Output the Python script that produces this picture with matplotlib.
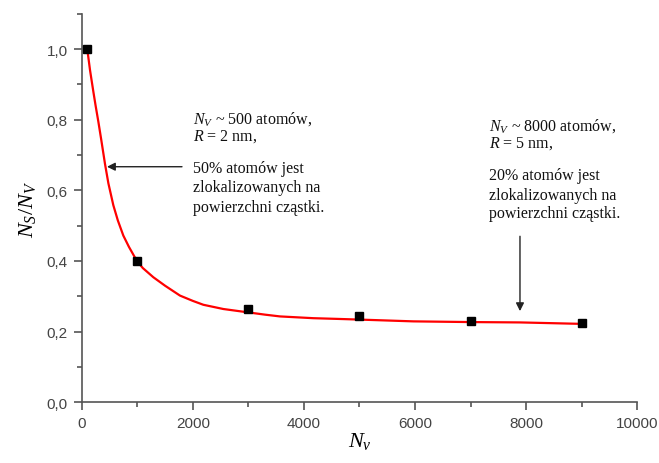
import matplotlib.pyplot as plt

plt.rcParams['mathtext.fontset'] = 'custom'
plt.rcParams['mathtext.rm'] = 'Liberation Serif'
plt.rcParams['mathtext.it'] = 'Liberation Serif:italic'

# measured points
n_v = [100, 1000, 3000, 5000, 7000, 9000]
ratio = [1.0, 0.40, 0.264, 0.243, 0.231, 0.224]

# fitted curve
fit_x = [100, 150, 209, 250, 299, 350, 419, 480, 569, 650, 749, 850, 990,
         1100, 1289, 1500, 1769, 2000, 2189, 2549, 2970, 3300, 3569, 4169,
         4600, 5009, 5969, 7000, 7889, 8969]
fit_y = [1.0, 0.94, 0.88, 0.84, 0.795, 0.745, 0.675, 0.62, 0.558, 0.515,
         0.472, 0.44, 0.401, 0.38, 0.354, 0.33, 0.302, 0.287, 0.276, 0.264,
         0.255, 0.248, 0.243, 0.238, 0.236, 0.234, 0.229, 0.227, 0.226, 0.222]

xticks = [0, 2000, 4000, 6000, 8000, 10000]
yticks = [0.0, 0.2, 0.4, 0.6, 0.8, 1.0]
ytick_labels = ['0,0', '0,2', '0,4', '0,6', '0,8', '1,0']

fig = plt.figure(figsize=(6.59, 4.64), dpi=100)
ax = fig.add_axes([0.124, 0.131, 0.843, 0.837])

ax.plot(fit_x, fit_y, color='red', lw=1.6, zorder=2)
ax.plot(n_v, ratio, 's', color='black', ms=6, zorder=3)

ax.set_xlim(0, 10000)
ax.set_ylim(0, 1.1)
ax.set_xticks(xticks)
ax.set_xticks(range(1000, 10000, 2000), minor=True)
ax.set_yticks(yticks)
ax.set_yticklabels(ytick_labels)
ax.set_yticks([0.1, 0.3, 0.5, 0.7, 0.9, 1.1], minor=True)

for s in ['top', 'right']:
    ax.spines[s].set_visible(False)
for s in ['left', 'bottom']:
    ax.spines[s].set_color('#555555')
    ax.spines[s].set_linewidth(1.2)
ax.tick_params(which='both', direction='out', color='#555555', width=1.2,
               labelsize=11, labelcolor='#444444', pad=4)
ax.tick_params(which='major', length=6)
ax.tick_params(which='minor', length=3.5)
for lbl in ax.get_xticklabels() + ax.get_yticklabels():
    lbl.set_family('Liberation Sans')

ax.set_xlabel('$N_v$', fontsize=16, labelpad=0)
ax.set_ylabel('$N_S/N_V$', fontsize=16, labelpad=6)

txt = dict(fontsize=11.5, family='Liberation Serif', color='#111111',
           va='baseline', ha='left')
ax.text(2000, 0.791, r'$N_V$ ~ 500 atomów,', **txt)
ax.text(2000, 0.743, r'$R$ = 2 nm,', **txt)
ax.text(2000, 0.651, '50% atomów jest', **txt)
ax.text(2000, 0.597, 'zlokalizowanych na', **txt)
ax.text(2000, 0.541, 'powierzchni cząstki.', **txt)

ax.text(7330, 0.771, r'$N_V$ ~ 8000 atomów,', **txt)
ax.text(7330, 0.723, r'$R$ = 5 nm,', **txt)
ax.text(7330, 0.632, '20% atomów jest', **txt)
ax.text(7330, 0.576, 'zlokalizowanych na', **txt)
ax.text(7330, 0.524, 'powierzchni cząstki.', **txt)

arrow = dict(arrowstyle='-|>', color='#222222', lw=1.0, mutation_scale=12,
             shrinkA=0, shrinkB=0)
ax.annotate('', xy=(455, 0.667), xytext=(1805, 0.667), arrowprops=arrow)
ax.annotate('', xy=(7889, 0.258), xytext=(7889, 0.47), arrowprops=arrow)

fig.savefig('out.png', dpi=100)
